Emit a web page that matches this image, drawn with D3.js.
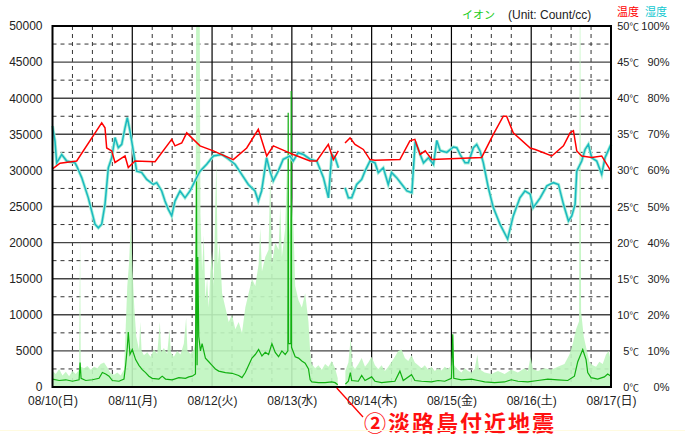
<!DOCTYPE html>
<html><head><meta charset="utf-8">
<script src="https://cdn.jsdelivr.net/npm/d3@7"></script>
<style>
html,body{margin:0;padding:0;background:#fff;}
svg text{font-family:'Liberation Sans','Noto Sans CJK JP',sans-serif;}
</style></head>
<body><svg id="c" width="685" height="435"></svg>
<script>
// ---- data ----
const dayLabels = ["08/10(日)","08/11(月)","08/12(火)","08/13(水)","08/14(木)","08/15(金)","08/16(土)","08/17(日)"];
const dayHours = [0,24,48,72,96,120,144,168];
const ionTicks = [0,5000,10000,15000,20000,25000,30000,35000,40000,45000,50000];
const tempTicks = [0,5,10,15,20,25,30,35,40,45,50];
const humTicks = [0,10,20,30,40,50,60,70,80,90,100];
// [hour since 08/10 00:00, value]
const ionPeak = [[0,2200],[1,1800],[2,2500],[3,1600],[4,2100],[5,1500],[6,2200],[7,1800],[8,2400],[8.3,20900],[8.5,2800],[9.5,2600],[10.5,2900],[11.5,2400],[12.5,2800],[13.5,2600],[14.5,3200],[15.5,3400],[16.5,2700],[17.5,1900],[18.5,1700],[19.5,2000],[20.5,1600],[21.5,2400],[22,8000],[22.5,14000],[23,17000],[23.6,23000],[24.1,16000],[24.6,11000],[25.2,7000],[26,5200],[26.4,9000],[26.8,5000],[27.5,4400],[28.5,4800],[29.5,4200],[30.5,5200],[31.5,4600],[32.3,9000],[32.7,4800],[33.5,5400],[34.5,4600],[35.2,8000],[35.6,4800],[36.5,4200],[37.5,5000],[38.5,4500],[39.5,6000],[40.2,9600],[40.6,5000],[41.5,4600],[42.5,5200],[43.0,6500],[43.2,50000],[44.3,50000],[44.5,24000],[45,16000],[45.5,21000],[46,12000],[46.5,15000],[47,11000],[47.5,16000],[48,18800],[48.5,14000],[49,26000],[49.3,31000],[49.7,17000],[50.3,20000],[51,13000],[52,11000],[53,9000],[54,10000],[55,8000],[56,9000],[57,7500],[58,11000],[59,13000],[60,15000],[61,14000],[62,17000],[62.5,22000],[63,16000],[64,18000],[65,19000],[65.5,30000],[66,17000],[67,20000],[68,19000],[68.5,25000],[69,18000],[70,22000],[70.5,30000],[71,20000],[72,26700],[72.5,22000],[73,14000],[74,12000],[75,11000],[76,13000],[77,9000],[77.5,5000],[78,3200],[79,2600],[80,3000],[81,2400],[82,3200],[83,2800],[84,3600],[85,2600],[85.8,1200],[86,null],[88,null],[88.1,2200],[89,3400],[89.7,6800],[90.2,3000],[91,2500],[92,3200],[93,4000],[94,2800],[95,3400],[96,4200],[97,3000],[98,2500],[99,3000],[100,2200],[101,2800],[102,3500],[103,4200],[104,5000],[105,5200],[106,4000],[107,3600],[108,4400],[109,3400],[110,3000],[111,2600],[112,3000],[113,2400],[114,2800],[115,2200],[116,2600],[117,2300],[118,2800],[119,2500],[120,3000],[120.5,7300],[120.8,3000],[122,2400],[123,2000],[124,2600],[125,2200],[126,2000],[127,2500],[127.8,4500],[128.3,2500],[130,2000],[132,1800],[134,2200],[136,1800],[138,2400],[140,2000],[142,2600],[143,2200],[143.8,4200],[144.5,2500],[146,2200],[148,2600],[150,2400],[152,2800],[154,3200],[155.5,4500],[156.5,6000],[157.5,8000],[158.4,9100],[158.6,50000],[158.8,50000],[159,10500],[159.8,7000],[160.5,5500],[161.5,3500],[162.5,3000],[163.5,2800],[164.5,3500],[165.5,3200],[166.5,4500],[167.3,5000],[168,3500]];
const ionMean = [[0,1100],[2,900],[4,1000],[6,800],[8,1000],[8.3,3400],[8.6,1200],[10,900],[12,1000],[14,1200],[15,2000],[16,1800],[17,1500],[18,900],[20,800],[21.5,1100],[22,3000],[22.5,5500],[22.8,7600],[23.3,4500],[24,5200],[25,3800],[26,3000],[27,2400],[28,2000],[29,1500],[30,1200],[32,1100],[33,1500],[34,1100],[36,1000],[38,1300],[40,1200],[41,1400],[42,1500],[43,1800],[43.3,30000],[43.5,3000],[43.7,18000],[44,7000],[44.5,5000],[45,6000],[46,4000],[47,3500],[48,3000],[49,2500],[50,2200],[52,2000],[54,1900],[56,1600],[57,1300],[58,2000],[59,3000],[60,4000],[61,4500],[62,5200],[63,4300],[64,4800],[65,4500],[66,6000],[67,4800],[68,4200],[69,5000],[70,4500],[70.8,5000],[70.9,38000],[71.0,6000],[71.7,6000],[71.8,41000],[71.9,5500],[73,4200],[74,4000],[75,3600],[76,3300],[77,2500],[77.5,1000],[78,700],[80,600],[82,600],[84,700],[85,600],[85.8,300],[86,null],[88,null],[88.1,400],[89,800],[89.6,2000],[90,900],[92,800],[93,1600],[94,900],[96,1400],[97,800],[99,600],[101,700],[103,800],[104.5,2200],[105.5,900],[108,1700],[109,900],[111,800],[114,700],[116,900],[118,800],[120,1200],[120.4,7300],[120.7,1200],[123,1000],[126,1100],[128,900],[130,700],[133,600],[136,700],[138,1000],[140,800],[143,700],[146,900],[149,1100],[152,1000],[155,900],[157,1500],[158,3500],[159.5,5200],[160.5,3800],[161,2000],[162,1300],[164,1100],[166,1400],[167,1800],[168,1500]];
const temperature = [[0,30.2],[2.26,31.0],[7.28,31.3],[14.8,36.6],[15.79,35.9],[16.3,33.1],[17.81,32.7],[18.8,31.1],[21.81,32.0],[22.8,30.4],[24.82,31.3],[30.84,31.2],[35.86,34.3],[36.85,33.4],[38.87,33.8],[40.37,35.2],[42.36,34.3],[44.37,33.4],[48.38,32.7],[54.39,31.5],[58.42,33.1],[61.91,35.7],[64.44,32.0],[66.43,33.4],[70.94,32.5],[72.44,32.2],[77.47,31.3],[79.48,31.3],[82.97,33.6],[84.48,31.5],[85.98,32.7],[87,null],[87.99,33.8],[89.5,34.5],[91.0,33.6],[93.5,32.9],[95.5,31.5],[97.0,31.4],[104.5,31.5],[107.5,34.1],[109.0,34.3],[110.6,32.2],[112.1,32.7],[114.1,31.5],[129.1,31.8],[132.6,35.0],[135.6,37.5],[136.6,37.5],[138.6,35.2],[143.7,33.1],[145.2,32.9],[150.2,32.0],[153.7,33.4],[155.7,35.2],[156.7,35.5],[157.7,32.7],[159.2,32.0],[162.2,31.8],[165.2,32.0],[168,29.9]];
const humidity = [[0,72.3],[0.75,68.1],[1.26,62.1],[2.77,64.4],[4.27,62.6],[6.77,62.1],[7.28,61.2],[8.78,58.0],[10.77,52.4],[12.79,45.1],[13.78,44.1],[14.8,45.1],[15.79,50.6],[16.79,60.7],[17.81,63.5],[18.8,69.1],[19.8,66.3],[20.82,67.2],[21.81,71.8],[22.5,74.6],[23.32,70.9],[24.31,65.4],[25.33,59.8],[26.84,59.4],[28.34,57.5],[30.32,56.1],[31.35,56.6],[32.85,54.3],[33.84,51.5],[34.84,49.2],[35.86,47.4],[36.85,51.5],[38.36,54.3],[39.86,52.4],[41.36,54.3],[42.87,57.1],[44.37,59.8],[46.39,61.7],[48.38,64.0],[50.9,64.4],[52.4,63.5],[54.9,61.7],[56.9,58.9],[58.9,56.1],[60.9,54.3],[61.9,51.5],[62.9,54.3],[64.4,63.5],[65.4,59.8],[66.4,57.1],[67.9,59.8],[69.4,63.1],[71.4,64.0],[72.4,62.6],[73.9,64.9],[75.5,64.4],[77.5,63.1],[79.5,62.6],[81.5,58.0],[83.0,52.4],[84.0,64.4],[85.0,63.5],[86.0,60.7],[87,null],[88.0,55.2],[89.0,52.4],[90.0,52.4],[91.5,56.1],[93.0,57.5],[94.0,59.8],[95.5,62.6],[97.0,62.1],[98.0,59.4],[99.5,60.7],[101.0,56.1],[102.0,59.4],[103.5,58.0],[105.1,56.1],[106.6,54.3],[108.1,53.8],[109.1,68.0],[110.6,64.4],[111.6,62.1],[113.1,63.5],[114.6,61.7],[115.6,68.3],[116.6,65.5],[118.6,65.0],[120.6,66.5],[121.6,66.3],[122.6,64.4],[124.1,62.1],[125.1,62.1],[126.6,66.3],[127.6,67.2],[128.6,65.4],[129.6,62.1],[131.1,55.2],[132.6,49.7],[134.6,45.1],[136.9,41.0],[138.6,47.4],[140.6,52.4],[142.1,54.3],[143.7,53.4],[144.6,49.7],[146.7,52.4],[148.7,55.7],[150.7,56.6],[152.2,56.1],[153.7,50.6],[155.2,46.0],[156.2,47.4],[157.2,50.6],[157.7,59.8],[159.2,62.6],[160.2,65.8],[161.2,67.2],[162.2,63.5],[163.7,62.6],[165.2,58.9],[166.2,63.5],[168,67.2]];

// ---- layout ----
const svg = d3.select("#c");
const X0 = 52.5, X1 = 611, Y0 = 26, Y1 = 387;
const x = d3.scaleLinear().domain([0,168]).range([X0,X1]);
const yIon = d3.scaleLinear().domain([0,50000]).range([Y1,Y0]);
const yT = d3.scaleLinear().domain([0,50]).range([Y1,Y0]);
const yH = d3.scaleLinear().domain([0,100]).range([Y1,Y0]);

// grid
const g = svg.append("g");
const halfTicks = d3.range(2500,50000,5000);
g.selectAll(".hd").data(halfTicks).join("line")
  .attr("x1",X0).attr("x2",X1).attr("y1",d=>yIon(d)).attr("y2",d=>yIon(d))
  .attr("stroke","#333").attr("stroke-dasharray","4,4");
const sixH = d3.range(6,168,6).filter(h=>h%24!==0);
g.selectAll(".vd").data(sixH).join("line")
  .attr("y1",Y0).attr("y2",Y1).attr("x1",d=>x(d)).attr("x2",d=>x(d))
  .attr("stroke","#333").attr("stroke-dasharray","4,4");
g.selectAll(".hs").data(ionTicks.slice(1,-1)).join("line")
  .attr("x1",X0).attr("x2",X1).attr("y1",d=>yIon(d)).attr("y2",d=>yIon(d))
  .attr("stroke","#444").attr("stroke-width",1.4);
g.selectAll(".vs").data(dayHours.slice(1,-1)).join("line")
  .attr("y1",Y0).attr("y2",Y1).attr("x1",d=>x(d)).attr("x2",d=>x(d))
  .attr("stroke","#000").attr("stroke-width",1.2);

// ion peak (light green)
const area = d3.area().defined(d=>d[1]!=null).x(d=>x(d[0])).y0(Y1).y1(d=>yIon(d[1]));
svg.append("path").datum(ionPeak).attr("d",area).attr("fill","#bff5bf").attr("fill-opacity",0.9);
const lineIon = d3.line().defined(d=>d[1]!=null).x(d=>x(d[0])).y(d=>yIon(d[1]));
svg.append("path").datum(ionMean).attr("d",lineIon).attr("fill","none").attr("stroke","#11b011").attr("stroke-width",1.2);

// humidity
const lineH = d3.line().defined(d=>d[1]!=null).x(d=>x(d[0])).y(d=>yH(d[1]));
svg.append("path").datum(humidity).attr("d",lineH).attr("fill","none").attr("stroke","#a8f0d8").attr("stroke-width",3.2);
svg.append("path").datum(humidity).attr("d",lineH).attr("fill","none").attr("stroke","#1ab8c0").attr("stroke-width",1.5);
// temperature
const lineT = d3.line().defined(d=>d[1]!=null).x(d=>x(d[0])).y(d=>yT(d[1]));
svg.append("path").datum(temperature).attr("d",lineT).attr("fill","none").attr("stroke","#ff0000").attr("stroke-width",1.5);

// frame
svg.append("rect").attr("x",X0).attr("y",Y0).attr("width",X1-X0).attr("height",Y1-Y0)
  .attr("fill","none").attr("stroke","#000").attr("stroke-width",2);

// axes
function clean(sel, fs){ sel.select(".domain").remove(); sel.selectAll("text").attr("fill","#222").style("font-size",(fs||12)+"px"); }
svg.append("g").attr("transform",`translate(${X0},0)`)
  .call(d3.axisLeft(yIon).tickValues(ionTicks).tickSize(0).tickPadding(10).tickFormat(d=>String(d))).call(clean);
const tAx = svg.append("g").attr("transform",`translate(640,0)`)
  .call(d3.axisLeft(yT).tickValues(tempTicks).tickSize(0).tickPadding(1).tickFormat(d=>String(d))).call(s=>clean(s,11));
tAx.selectAll("text").append("tspan").style("font-size","9.5px").text("℃");
svg.append("g").attr("transform",`translate(670,0)`)
  .call(d3.axisLeft(yH).tickValues(humTicks).tickSize(0).tickPadding(0.5).tickFormat(d=>d+"%")).call(s=>clean(s,11));
svg.append("g").attr("transform",`translate(0,${Y1})`)
  .call(d3.axisBottom(x).tickValues(dayHours).tickSize(0).tickPadding(9).tickFormat((d,i)=>dayLabels[i])).call(clean);

// header
svg.append("text").attr("x",462).attr("y",19).attr("fill","#22cc22").style("font-size","11px").text("イオン");
svg.append("text").attr("x",508).attr("y",19).attr("fill","#222").style("font-size","12px").text("(Unit: Count/cc)");
svg.append("text").attr("x",617).attr("y",15.5).attr("fill","#ff0000").style("font-size","11px").text("温度");
svg.append("text").attr("x",645).attr("y",15.5).attr("fill","#11c8d0").style("font-size","11px").text("湿度");

// annotation
svg.append("line").attr("x1",x(85.5)).attr("y1",Y1+1).attr("x2",363).attr("y2",417).attr("stroke","#ff0000").attr("stroke-width",1.3);
svg.append("text").attr("x",364).attr("y",431).attr("fill","#ff1010").style("font-size","22px").style("font-weight","bold")
  .style("letter-spacing","2px").text("②淡路島付近地震");
svg.append("line").attr("x1",0).attr("x2",685).attr("y1",430.5).attr("y2",430.5).attr("stroke","#fffbe0");
</script></body></html>
